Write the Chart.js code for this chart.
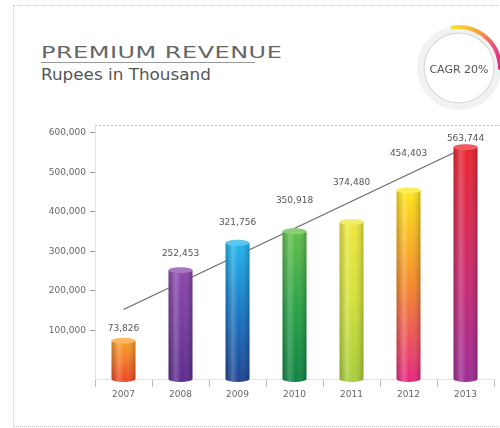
<!DOCTYPE html>
<html>
<head>
<meta charset="utf-8">
<script src="https://cdn.jsdelivr.net/npm/chart.js@4"></script>
<style>
  body { margin: 0; background: #fff; }
  #wrap { position: relative; width: 500px; height: 428px; overflow: hidden; }
  #frame { position: absolute; left: 13px; top: 5px; width: 520px; height: 420px;
           border: 1px dotted #c8c8c8; }
  #title { position: absolute; left: 41px; top: 44px; font-family: "DejaVu Sans", sans-serif;
           font-size: 15px; color: #666; letter-spacing: 0.3px; white-space: nowrap;
           transform-origin: 0 0; transform: scaleX(1.6); }
  #rule { position: absolute; left: 41px; top: 62px; width: 214px; height: 0;
          border-top: 1px solid #999; }
  #subtitle { position: absolute; left: 41px; top: 65px; font-family: "DejaVu Sans", sans-serif;
              font-size: 16px; color: #555; white-space: nowrap;
              transform-origin: 0 0; transform: scaleX(1.05); }
  canvas { position: absolute; left: 0; top: 0; }
</style>
</head>
<body>
<div id="wrap">
  <div id="frame"></div>
  <div id="title">PREMIUM REVENUE</div>
  <div id="rule"></div>
  <div id="subtitle">Rupees in Thousand</div>
  <canvas id="revenue" width="500" height="428"></canvas>
</div>
<script>
// yearly premium revenue, rupees in thousand
var years = ["2007", "2008", "2009", "2010", "2011", "2012", "2013"];
var revenue = [73826, 252453, 321756, 350918, 374480, 454403, 563744];
// growth trend drawn from the first year to the last
var trend = [153000, null, null, null, null, null, 563744];
var yTicks = [100000, 200000, 300000, 400000, 500000, 600000];
var cagrText = "CAGR 20%";

// bar colours, top -> middle -> bottom of each column
var topColors = ["#f9a12b", "#8b47aa", "#22b5ea", "#62bf4a", "#eee83c", "#fde619", "#e9242c"];
var midColors = ["#f47a25", "#733a9e", "#1878c4", "#2aa346", "#d2e03a", "#f58a2a", "#cf2a6a"];
var bottomColors = ["#ee4a24", "#5c2c8e", "#1d4595", "#0f8443", "#a8cd3b", "#e8287e", "#9f2b97"];
// how far above each column its value label sits
var labelLift = [12, 17, 20, 31, 39, 37, 9];

function fmt(v) {
    return v.toLocaleString("en-US");
}

function barGradient(context) {
    var chart = context.chart;
    var i = context.dataIndex;
    if (!chart.chartArea || !chart.scales.y) return midColors[i];
    var y = chart.scales.y;
    var top = y.getPixelForValue(revenue[i]);
    var bottom = chart.chartArea.bottom;
    var g = chart.ctx.createLinearGradient(0, top, 0, bottom);
    g.addColorStop(0, topColors[i]);
    g.addColorStop(0.5, midColors[i]);
    g.addColorStop(1, bottomColors[i]);
    return g;
}

// gives every column a rounded, cylinder-like look and writes the values
var columnPlugin = {
    id: "columns",
    afterDatasetsDraw: function(chart) {
        var ctx = chart.ctx;
        var meta = chart.getDatasetMeta(0);
        meta.data.forEach(function(bar, i) {
            var w = bar.width, left = bar.x - w / 2, h = bar.base - bar.y;
            ctx.save();
            // bottom cap
            ctx.fillStyle = bottomColors[i];
            ctx.beginPath();
            ctx.ellipse(bar.x, bar.base, w / 2, 3, 0, 0, Math.PI);
            ctx.fill();
            // side shading
            var sh = ctx.createLinearGradient(left, 0, left + w, 0);
            sh.addColorStop(0, "rgba(0,0,0,0.18)");
            sh.addColorStop(0.3, "rgba(255,255,255,0.22)");
            sh.addColorStop(0.55, "rgba(255,255,255,0)");
            sh.addColorStop(1, "rgba(0,0,0,0.22)");
            ctx.fillStyle = sh;
            ctx.fillRect(left, bar.y, w, h);
            ctx.beginPath();
            ctx.ellipse(bar.x, bar.base, w / 2, 3, 0, 0, Math.PI);
            ctx.fill();
            // top cap
            ctx.fillStyle = topColors[i];
            ctx.beginPath();
            ctx.ellipse(bar.x, bar.y, w / 2, 3, 0, 0, Math.PI * 2);
            ctx.fill();
            ctx.fillStyle = "rgba(255,255,255,0.25)";
            ctx.fill();
            // value label
            ctx.fillStyle = "#555";
            ctx.font = "9px 'DejaVu Sans', sans-serif";
            ctx.textAlign = "center";
            ctx.textBaseline = "middle";
            ctx.fillText(fmt(revenue[i]), bar.x, bar.y - labelLift[i]);
            ctx.restore();
        });
    },
    beforeDatasetsDraw: function(chart) {
        // dotted line along the top of the plot
        var ctx = chart.ctx, a = chart.chartArea;
        ctx.save();
        ctx.strokeStyle = "#c4c4c4";
        ctx.setLineDash([2, 2]);
        ctx.lineWidth = 1;
        ctx.beginPath();
        ctx.moveTo(a.left, a.top + 0.5);
        ctx.lineTo(chart.width, a.top + 0.5);
        ctx.stroke();
        ctx.restore();
    }
};

// CAGR badge in the top right corner
var badgePlugin = {
    id: "badge",
    afterDraw: function(chart) {
        var ctx = chart.ctx;
        var cx = 459, cy = 68;
        ctx.save();
        ctx.strokeStyle = "#f1f1f1";
        ctx.lineWidth = 6;
        ctx.beginPath();
        ctx.arc(cx, cy, 39, 0, Math.PI * 2);
        ctx.stroke();
        ctx.fillStyle = "#fff";
        ctx.strokeStyle = "#dcdcdc";
        ctx.lineWidth = 1.5;
        ctx.beginPath();
        ctx.arc(cx, cy, 35, 0, Math.PI * 2);
        ctx.fill();
        ctx.stroke();
        var g = ctx.createLinearGradient(cx - 10, cy - 42, cx + 42, cy);
        g.addColorStop(0, "#f4ec2a");
        g.addColorStop(0.4, "#f6a03a");
        g.addColorStop(0.7, "#ee4d7a");
        g.addColorStop(1, "#d9267f");
        ctx.strokeStyle = g;
        ctx.lineWidth = 4;
        ctx.lineCap = "round";
        ctx.beginPath();
        ctx.arc(cx, cy, 41, -Math.PI * 0.55, 0);
        ctx.stroke();
        ctx.fillStyle = "#555";
        ctx.font = "11px 'DejaVu Sans', sans-serif";
        ctx.textAlign = "center";
        ctx.textBaseline = "middle";
        ctx.fillText(cagrText, cx, cy + 2);
        ctx.restore();
    }
};

new Chart(document.getElementById("revenue"), {
    data: {
        labels: years,
        datasets: [{
            type: "bar",
            data: revenue,
            order: 0,
            base: -23000,
            backgroundColor: barGradient,
            barPercentage: 0.42,
            categoryPercentage: 1
        }, {
            type: "line",
            data: trend,
            order: 1,
            spanGaps: true,
            borderColor: "#6a6a6a",
            borderWidth: 1.2,
            pointRadius: 0,
            fill: false
        }]
    },
    options: {
        responsive: false,
        animation: false,
        layout: { padding: { top: 125, right: 6, bottom: 19, left: 0 } },
        plugins: { legend: { display: false }, tooltip: { enabled: false } },
        scales: {
            x: {
                afterFit: function(s) { s.height = 30; },
                grid: { offset: true, drawOnChartArea: false, tickLength: 8, color: "#bbb" },
                border: { color: "#dfe3ea" },
                ticks: { color: "#666", padding: 2, font: { family: "DejaVu Sans", size: 9 } }
            },
            y: {
                min: -23000,
                max: 620000,
                afterFit: function(s) { s.width = 95; },
                afterBuildTicks: function(s) {
                    s.ticks = yTicks.map(function(v) { return { value: v }; });
                },
                grid: { drawOnChartArea: false, tickLength: 5, color: "#999" },
                border: { color: "#e2e2e2", dash: [2, 2] },
                ticks: {
                    padding: 4,
                    color: "#666",
                    font: { family: "DejaVu Sans", size: 9 },
                    callback: function(v) { return fmt(v); }
                }
            }
        }
    },
    plugins: [columnPlugin, badgePlugin]
});
</script>
</body>
</html>
